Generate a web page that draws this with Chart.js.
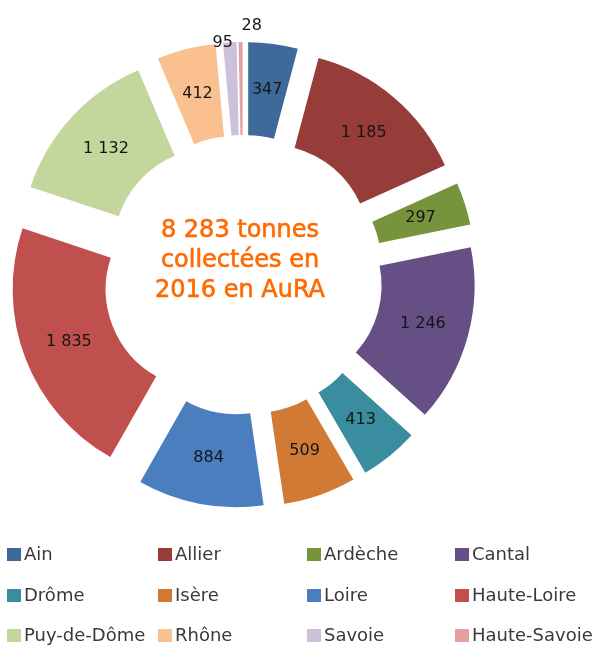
<!DOCTYPE html>
<html lang="fr">
<head>
    <meta charset="UTF-8">
    <title>Tonnes collectées en 2016 en AuRA</title>
    <script src="https://cdn.jsdelivr.net/npm/chart.js"></script>
    <style>
        body {
            margin: 0;
            background: #ffffff;
            font-family: 'DejaVu Sans', sans-serif;
        }
        #wrap {
            position: relative;
            width: 598px;
            height: 646px;
            overflow: hidden;
        }
        #wrap canvas {
            position: absolute;
            left: 0;
            top: 0;
        }
        /* legend: 4 fixed columns like the Excel one */
        .leg {
            position: absolute;
            font-size: 18px;
            color: #3a3a3a;
            white-space: nowrap;
            line-height: 20px;
        }
        .leg span {
            display: inline-block;
            width: 14px;
            height: 13px;
            margin-right: 3px;
            vertical-align: -1px;
        }
    </style>
</head>
<body>
<div id="wrap">
    <canvas id="donut" width="598" height="646"></canvas>
</div>

<script>
    const departements = ['Ain', 'Allier', 'Ardèche', 'Cantal', 'Drôme', 'Isère',
        'Loire', 'Haute-Loire', 'Puy-de-Dôme', 'Rhône', 'Savoie', 'Haute-Savoie'];
    const tonnes = [347, 1185, 297, 1246, 413, 509, 884, 1835, 1132, 412, 95, 28];
    const valueLabels = ['347', '1 185', '297', '1 246', '413', '509',
        '884', '1 835', '1 132', '412', '95', '28'];
    const centerLines = ['8 283 tonnes', 'collectées en', '2016 en AuRA'];

    const colors = ['#3d6a9b', '#963d3a', '#77933c', '#664f85', '#3a8c9f', '#d07a36',
        '#4a7ebf', '#c0504d', '#c3d69b', '#fac090', '#ccc1da', '#e2a09e'];

    const EXPLODE = 40; // px each slice is pulled out

    // draw each arc shifted along its bisector (Chart.js "offset" also resizes arcs)
    const explodePlugin = {
        id: 'explode',
        beforeDatasetDraw(chart, args) {
            const ctx = chart.ctx;
            args.meta.data.forEach(arc => {
                const mid = (arc.startAngle + arc.endAngle) / 2;
                ctx.save();
                ctx.translate(Math.cos(mid) * EXPLODE, Math.sin(mid) * EXPLODE);
                arc.draw(ctx);
                ctx.restore();
            });
            return false;
        }
    };

    // where the two thin slices put their value
    const placement = ['in', 'in', 'in', 'in', 'in', 'in', 'in', 'in', 'in', 'in', 'outLeft', 'outTop'];

    const labelPlugin = {
        id: 'labels',
        afterDatasetsDraw(chart) {
            const ctx = chart.ctx;
            const arcs = chart.getDatasetMeta(0).data;
            ctx.save();
            ctx.font = '16px "DejaVu Sans"';
            ctx.fillStyle = '#151515';
            ctx.textBaseline = 'middle';
            arcs.forEach((arc, i) => {
                const mid = (arc.startAngle + arc.endAngle) / 2;
                const dx = Math.cos(mid) * EXPLODE, dy = Math.sin(mid) * EXPLODE;
                if (placement[i] === 'in') {
                    const p = arc.getCenterPoint();
                    ctx.textAlign = 'center';
                    ctx.fillText(valueLabels[i], p.x + dx, p.y + dy);
                } else {
                    const ox = arc.x + dx + Math.cos(mid) * arc.outerRadius;
                    const oy = arc.y + dy + Math.sin(mid) * arc.outerRadius;
                    if (placement[i] === 'outLeft') {
                        ctx.textAlign = 'right';
                        ctx.fillText(valueLabels[i], ox + 3, oy);
                    } else {
                        ctx.textAlign = 'left';
                        ctx.fillText(valueLabels[i], ox + 1, oy - 16);
                    }
                }
            });

            // title in the hole
            const c = arcs[0];
            ctx.font = '24px "DejaVu Sans"';
            ctx.fillStyle = '#ff6a00';
            ctx.strokeStyle = '#ff6a00';
            ctx.lineWidth = 0.6;
            ctx.textAlign = 'center';
            ctx.textBaseline = 'alphabetic';
            centerLines.forEach((t, k) => {
                ctx.fillText(t, c.x - 3, c.y - 38 + k * 30);
                ctx.strokeText(t, c.x - 3, c.y - 38 + k * 30);
            });
            ctx.restore();
        }
    };

    new Chart(document.getElementById('donut'), {
        type: 'doughnut',
        data: {
            labels: departements,
            datasets: [{
                data: tonnes,
                backgroundColor: colors,
                borderWidth: 0,
                clip: false
            }]
        },
        options: {
            responsive: false,
            animation: false,
            radius: 193,
            cutout: '51.8%',
            layout: {
                padding: { left: 0, top: 0, right: 112, bottom: 96 }
            },
            plugins: {
                legend: { display: false },
                tooltip: { enabled: false }
            }
        },
        plugins: [explodePlugin, labelPlugin]
    });

    // legend, 3 rows of 4
    const wrap = document.getElementById('wrap');
    const colX = [7, 158, 307, 455];
    const rowY = [544, 585, 625];
    departements.forEach((name, i) => {
        const d = document.createElement('div');
        d.className = 'leg';
        d.style.left = colX[i % 4] + 'px';
        d.style.top = rowY[Math.floor(i / 4)] + 'px';
        d.innerHTML = '<span style="background:' + colors[i] + '"></span>' + name;
        wrap.appendChild(d);
    });
</script>
</body>
</html>
